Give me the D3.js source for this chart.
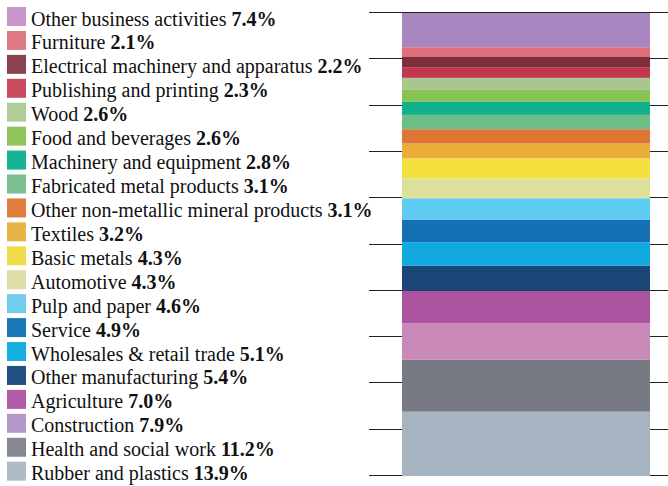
<!DOCTYPE html>
<html>
<head>
<meta charset="utf-8">
<script src="https://cdn.jsdelivr.net/npm/d3@7"></script>
<style>
  html, body { margin: 0; padding: 0; background: #fff; }
  svg { display: block; }
  .legend-label { font-family: "Liberation Serif", "Times New Roman", Times, "DejaVu Serif", serif; font-size: 20px; fill: #111; }
</style>
</head>
<body>
<svg id="chart" width="668" height="486"></svg>
<script>
// Sectors, listed top of the stack first (legend order)
const sectors = [
  "Other business activities",
  "Furniture",
  "Electrical machinery and apparatus",
  "Publishing and printing",
  "Wood",
  "Food and beverages",
  "Machinery and equipment",
  "Fabricated metal products",
  "Other non-metallic mineral products",
  "Textiles",
  "Basic metals",
  "Automotive",
  "Pulp and paper",
  "Service",
  "Wholesales & retail trade",
  "Other manufacturing",
  "Agriculture",
  "Construction",
  "Health and social work",
  "Rubber and plastics"
];

// Share of total, percent
const shares = [7.4, 2.1, 2.2, 2.3, 2.6, 2.6, 2.8, 3.1, 3.1, 3.2,
                4.3, 4.3, 4.6, 4.9, 5.1, 5.4, 7.0, 7.9, 11.2, 13.9];

// Fill of each segment in the stacked bar
const barColors = [
  "#a886bf", "#df6e7a", "#7e2f3e", "#c23651", "#a8c78c",
  "#88c455", "#10b08f", "#6dbd86", "#e07432", "#e9ae3a",
  "#f4e03c", "#dde09a", "#5fcdf2", "#1570b6", "#12a8e0",
  "#1c4577", "#ab539f", "#c98aba", "#777a82", "#a6b4c1"
];

// Fill of each legend swatch
const swatchColors = [
  "#c994c8", "#dd7a83", "#8b4150", "#c84b5f", "#b0cc98",
  "#8fc45a", "#14b494", "#7cbf91", "#e07f3c", "#e8b44a",
  "#f0dc4a", "#dedfa8", "#73cbee", "#1a78b8", "#14aee0",
  "#235080", "#b05ca6", "#b498c8", "#858890", "#aebcc6"
];

// Percent gridlines
const gridTicks = d3.range(0, 101, 10);

const svg = d3.select("#chart");

const y = d3.scaleLinear().domain([0, 100]).range([476, 13]);

// Stack from the bottom: last sector sits on the baseline
const rows = sectors.map((name, i) => ({ name, value: shares[i], bar: barColors[i], swatch: swatchColors[i] }));
const stacked = [];
let acc = 0;
for (let i = rows.length - 1; i >= 0; i--) {
  stacked.push({ ...rows[i], y0: acc, y1: acc + rows[i].value });
  acc += rows[i].value;
}

// Gridlines behind the bar
svg.append("g")
  .selectAll("line")
  .data(gridTicks)
  .join("line")
  .attr("x1", 369)
  .attr("x2", 668)
  .attr("y1", d => Math.round(y(d)) - 0.5)
  .attr("y2", d => Math.round(y(d)) - 0.5)
  .attr("stroke", "#222")
  .attr("stroke-width", 1);

// The stacked bar
const x = d3.scaleBand().domain(["all"]).range([402, 650]).padding(0);
svg.append("g")
  .selectAll("rect")
  .data(stacked)
  .join("rect")
  .attr("x", x("all"))
  .attr("width", x.bandwidth())
  .attr("y", d => y(d.y1))
  .attr("height", d => y(d.y0) - y(d.y1))
  .attr("fill", d => d.bar);

// Legend
const rowStep = 23.93;
const legend = svg.append("g")
  .selectAll("g")
  .data(rows)
  .join("g")
  .attr("transform", (d, i) => `translate(0,${7 + i * rowStep})`);

legend.append("rect")
  .attr("x", 7)
  .attr("y", 0)
  .attr("width", 19)
  .attr("height", 19)
  .attr("fill", d => d.swatch);

const label = legend.append("text")
  .attr("class", "legend-label")
  .attr("x", 31)
  .attr("y", 18.5);
label.append("tspan").text(d => d.name + " ");
label.append("tspan")
  .attr("font-weight", "bold")
  .text(d => d.value.toFixed(1) + "%");
</script>
</body>
</html>
